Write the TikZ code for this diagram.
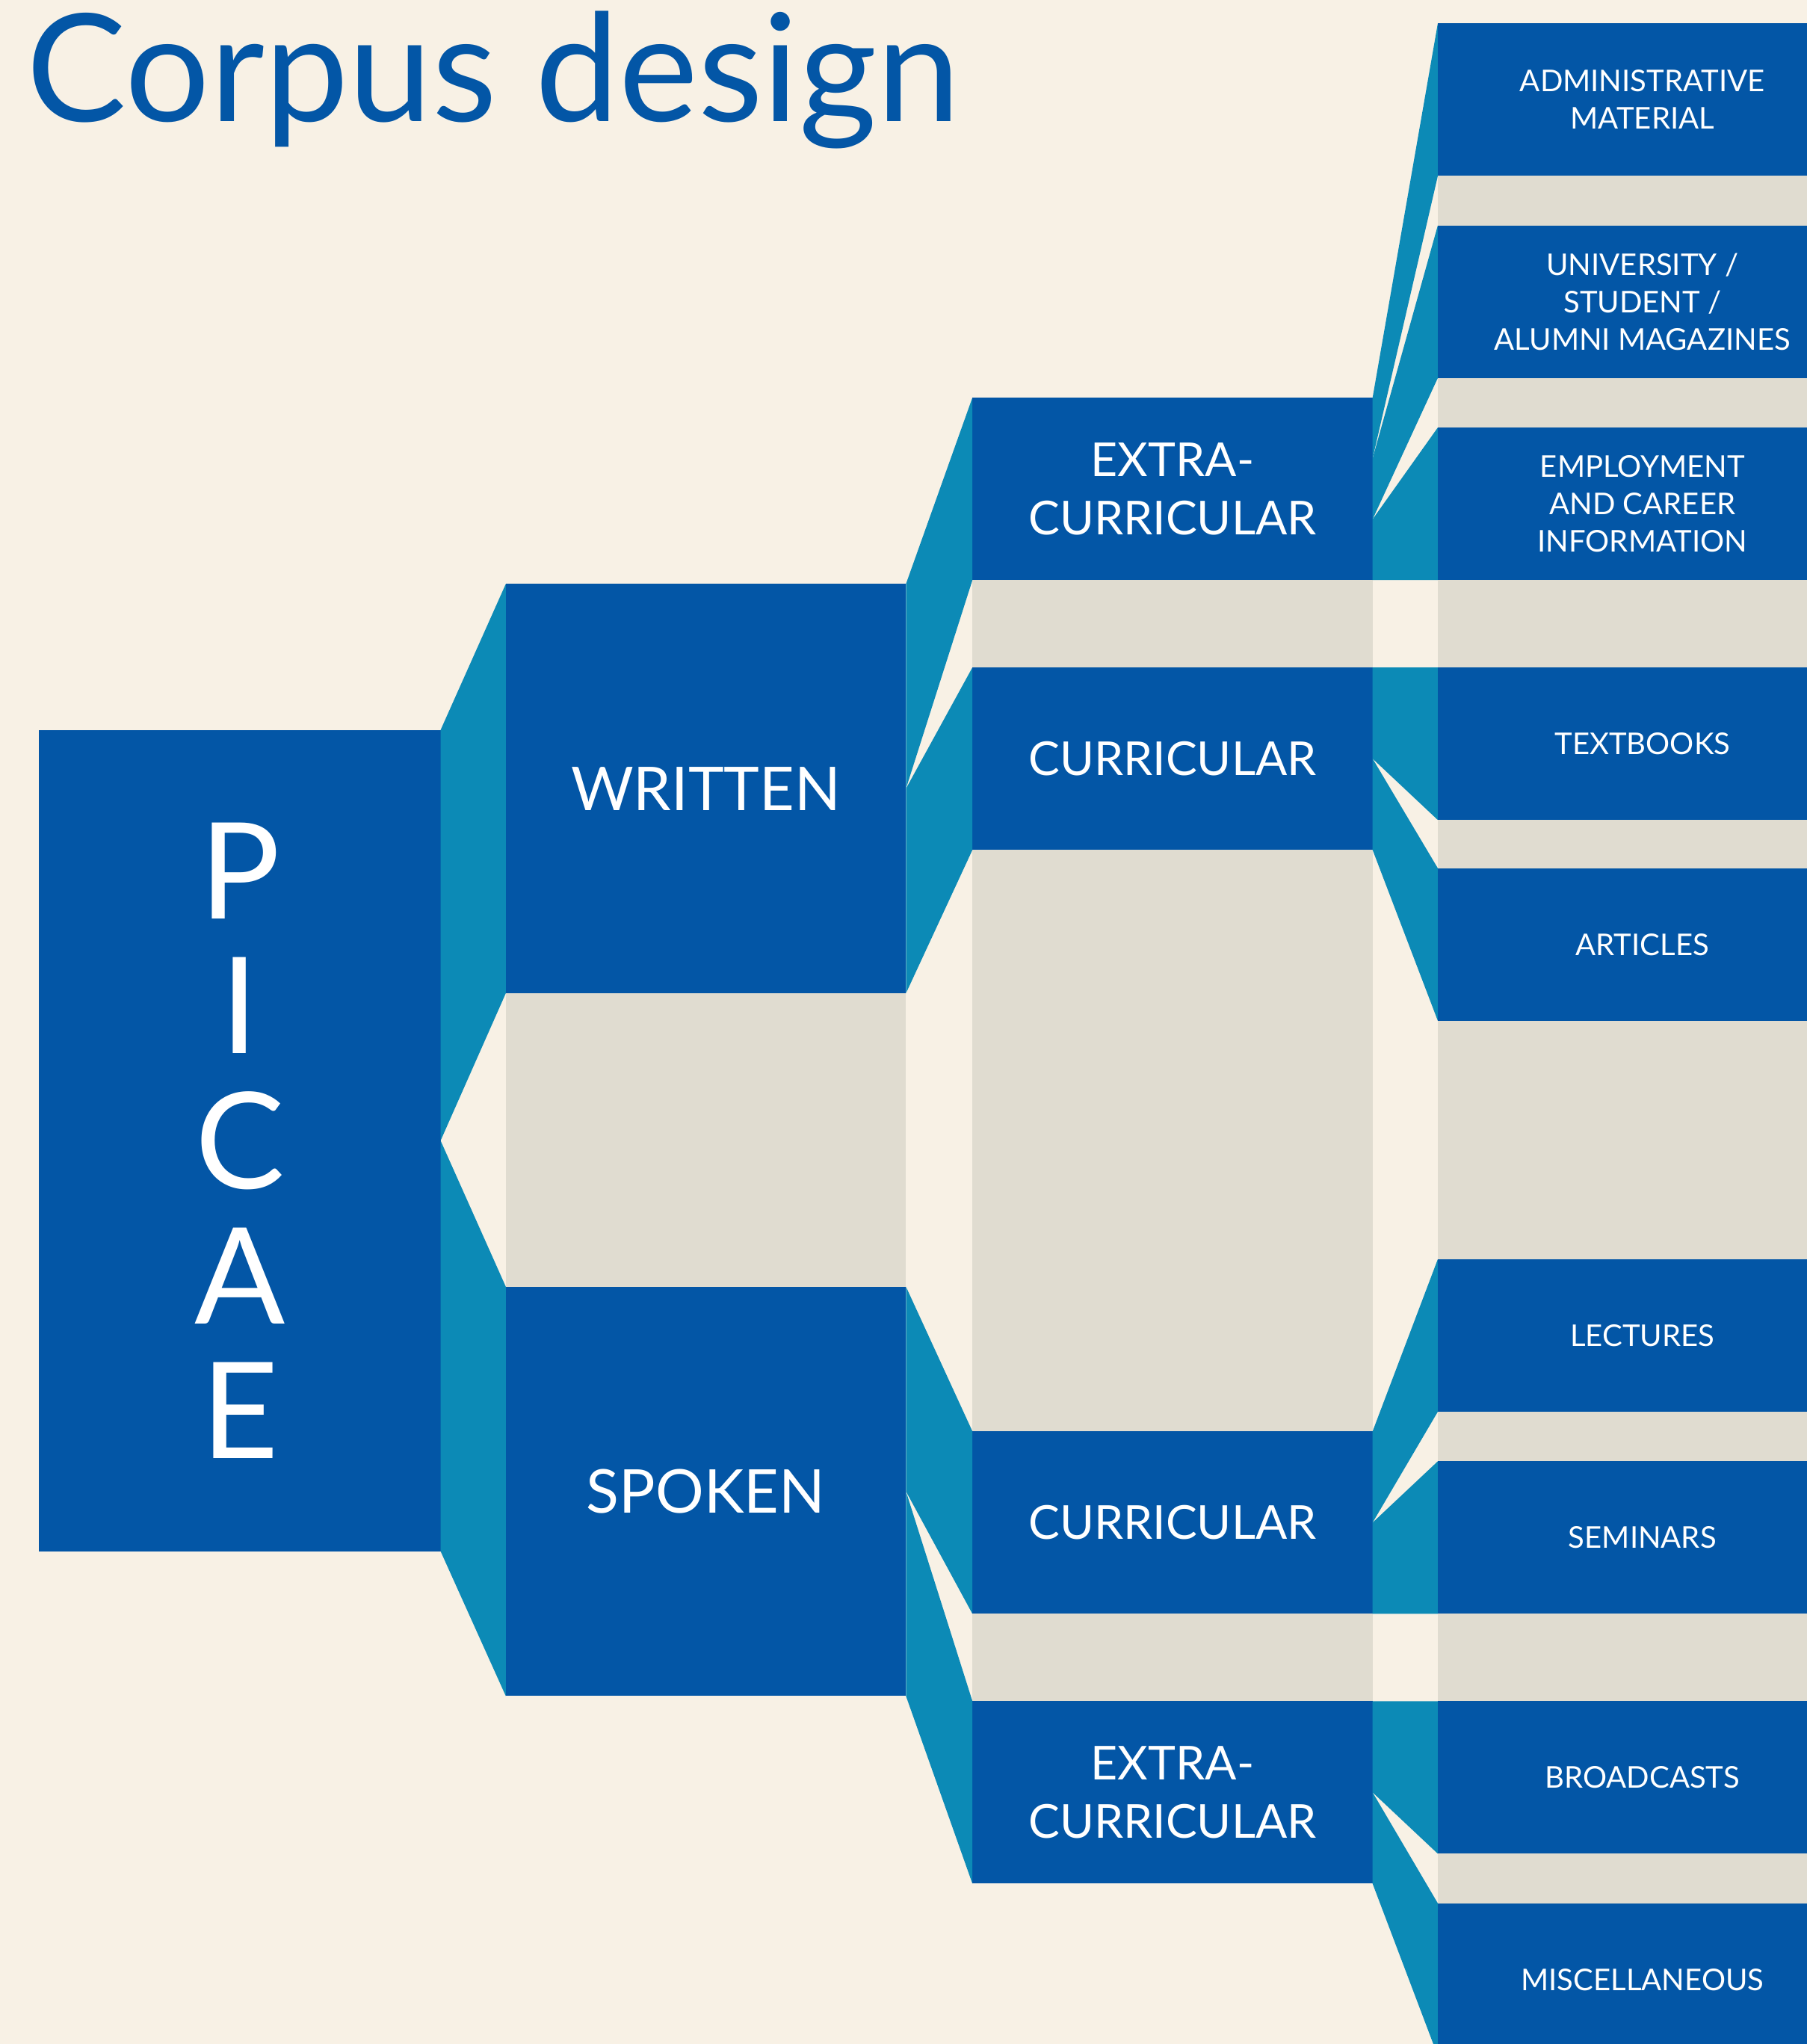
\documentclass[tikz,border=0pt]{standalone}
\usepackage{fontspec}
\setmainfont{Lato}
\usetikzlibrary{calc}

\definecolor{paper}{HTML}{F8F1E5}
\definecolor{picblue}{HTML}{0356A6}
\definecolor{linkteal}{HTML}{0C8AB6}
\definecolor{bandgrey}{HTML}{E0DCD0}

\newcommand{\pu}{0.017445cm}
\newcommand{\branch}[4]{%
  \fill[link] ($(#1.north east)!#3!(#1.south east)$) -- (#2.north west)
    -- (#2.south west) -- ($(#1.north east)!#4!(#1.south east)$) -- cycle;}

\begin{document}
\begin{tikzpicture}[x=\pu, y=-\pu,
    box/.style={fill=picblue, text=white, inner sep=0pt, outer sep=0pt,
      anchor=north west, align=center, minimum width=307*\pu},
    root/.style={box, minimum width=308*\pu, minimum height=630*\pu,
      font=\fontsize{51}{51.4}\selectfont},
    mode/.style={box, minimum height=314*\pu, font=\fontsize{23}{28}\selectfont},
    kind/.style={box, minimum height=140*\pu, font=\fontsize{17.8}{22.3}\selectfont},
    genre/.style={box, minimum width=314*\pu, minimum height=117*\pu,
      font=\fontsize{11.4}{14.2}\selectfont},
    link/.style={fill=linkteal},
    band/.style={fill=bandgrey}
  ]
  \useasboundingbox (0,0) rectangle (1386,1568);
  \fill[paper] (0,0) rectangle (1386,1568);

  \node[anchor=base west, inner sep=0pt, text=picblue,
    font=\fontsize{57}{60}\selectfont] (title) at (20,93) {Corpus design};

  \node[root] (picae) at (30,560) {P\\I\\C\\A\\E};

  \node[mode] (written) at (388,448) {WRITTEN};
  \node[mode] (spoken) at (388,987) {SPOKEN};

  \node[kind] (wextra) at (746,305) {EXTRA-\\CURRICULAR};
  \node[kind] (wcurr) at (746,512) {CURRICULAR};
  \node[kind] (scurr) at (746,1098) {CURRICULAR};
  \node[kind] (sextra) at (746,1305) {EXTRA-\\CURRICULAR};

  \node[genre] (admin) at (1103,18) {ADMINISTRATIVE\\MATERIAL};
  \node[genre] (univ) at (1103,173) {UNIVERSITY /\\STUDENT /\\ALUMNI MAGAZINES};
  \node[genre] (employ) at (1103,328) {EMPLOYMENT\\AND CAREER\\INFORMATION};
  \node[genre] (textbk) at (1103,512) {TEXTBOOKS};
  \node[genre] (artic) at (1103,666) {ARTICLES};
  \node[genre] (lect) at (1103,966) {LECTURES};
  \node[genre] (semin) at (1103,1121) {SEMINARS};
  \node[genre] (broad) at (1103,1305) {BROADCASTS};
  \node[genre] (misc) at (1103,1460) {MISCELLANEOUS};

  \fill[band] (written.south west) rectangle (spoken.north east);
  \fill[band] (wextra.south west) rectangle (wcurr.north east);
  \fill[band] (wcurr.south west) rectangle (scurr.north east);
  \fill[band] (scurr.south west) rectangle (sextra.north east);
  \fill[band] (admin.south west) rectangle (univ.north east);
  \fill[band] (univ.south west) rectangle (employ.north east);
  \fill[band] (employ.south west) rectangle (textbk.north east);
  \fill[band] (textbk.south west) rectangle (artic.north east);
  \fill[band] (artic.south west) rectangle (lect.north east);
  \fill[band] (lect.south west) rectangle (semin.north east);
  \fill[band] (semin.south west) rectangle (broad.north east);
  \fill[band] (broad.south west) rectangle (misc.north east);

  \branch{picae}{written}{0}{0.5}
  \branch{picae}{spoken}{0.5}{1}
  \branch{written}{wextra}{0}{0.5}
  \branch{written}{wcurr}{0.5}{1}
  \branch{spoken}{scurr}{0}{0.5}
  \branch{spoken}{sextra}{0.5}{1}
  \branch{wextra}{admin}{0}{0.3333}
  \branch{wextra}{univ}{0.3333}{0.6667}
  \branch{wextra}{employ}{0.6667}{1}
  \branch{wcurr}{textbk}{0}{0.5}
  \branch{wcurr}{artic}{0.5}{1}
  \branch{scurr}{lect}{0}{0.5}
  \branch{scurr}{semin}{0.5}{1}
  \branch{sextra}{broad}{0}{0.5}
  \branch{sextra}{misc}{0.5}{1}
\end{tikzpicture}
\end{document}
